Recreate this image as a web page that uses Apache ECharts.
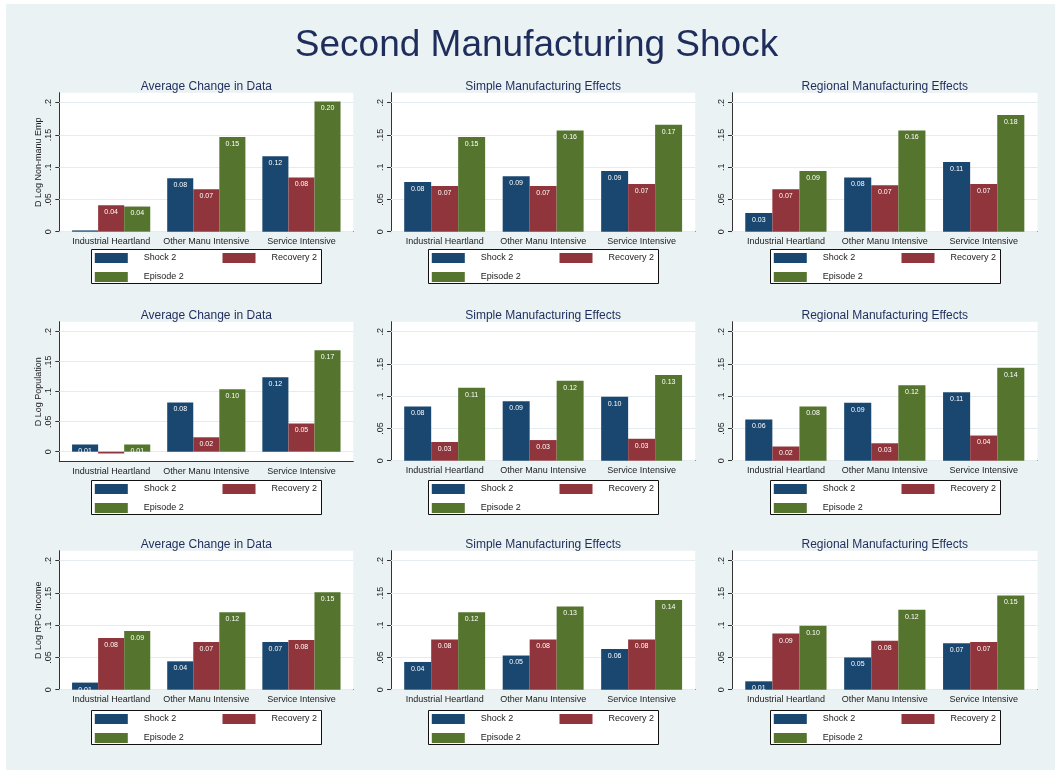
<!DOCTYPE html>
<html><head><meta charset="utf-8">
<script src="https://cdn.jsdelivr.net/npm/echarts@6/dist/echarts.min.js"></script>
<style>
html,body{margin:0;padding:0;background:#fff;}
#bg{position:absolute;left:6px;top:4px;width:1049px;height:766px;background:#eaf2f3;}
#chart{position:absolute;left:0;top:0;width:1055px;height:770px;}
</style>
</head><body><div id="bg"></div><div id="chart"></div>
<script>
const mainTitle = 'Second Manufacturing Shock';
const categories = ['Industrial Heartland', 'Other Manu Intensive', 'Service Intensive'];
const seriesNames = ['Shock 2', 'Recovery 2', 'Episode 2'];
const panelTitles = ['Average Change in Data', 'Simple Manufacturing Effects', 'Regional Manufacturing Effects'];
const rowLabels = ['D Log Non-manu Emp', 'D Log Population', 'D Log RPC Income'];
const yTicks = [0, 0.05, 0.1, 0.15, 0.2];

// Row 1: D Log Non-manu Emp
const empAvgShock = [0.002, 0.083, 0.117];
const empAvgRecovery = [0.041, 0.066, 0.084];
const empAvgEpisode = [0.039, 0.147, 0.202];
const empSimpleShock = [0.077, 0.086, 0.094];
const empSimpleRecovery = [0.071, 0.071, 0.074];
const empSimpleEpisode = [0.147, 0.157, 0.166];
const empRegionalShock = [0.029, 0.084, 0.108];
const empRegionalRecovery = [0.066, 0.072, 0.074];
const empRegionalEpisode = [0.094, 0.157, 0.181];
// Row 2: D Log Population
const popAvgShock = [0.012, 0.082, 0.124];
const popAvgRecovery = [-0.003, 0.024, 0.047];
const popAvgEpisode = [0.012, 0.104, 0.169];
const popSimpleShock = [0.084, 0.092, 0.099];
const popSimpleRecovery = [0.029, 0.032, 0.034];
const popSimpleEpisode = [0.113, 0.124, 0.133];
const popRegionalShock = [0.064, 0.090, 0.106];
const popRegionalRecovery = [0.022, 0.027, 0.039];
const popRegionalEpisode = [0.084, 0.117, 0.144];
// Row 3: D Log RPC Income
const incAvgShock = [0.011, 0.044, 0.074];
const incAvgRecovery = [0.080, 0.074, 0.077];
const incAvgEpisode = [0.091, 0.120, 0.151];
const incSimpleShock = [0.043, 0.053, 0.063];
const incSimpleRecovery = [0.078, 0.078, 0.078];
const incSimpleEpisode = [0.120, 0.129, 0.139];
const incRegionalShock = [0.013, 0.050, 0.072];
const incRegionalRecovery = [0.087, 0.076, 0.074];
const incRegionalEpisode = [0.099, 0.124, 0.146];

const panels = [
  [empAvgShock, empAvgRecovery, empAvgEpisode],
  [empSimpleShock, empSimpleRecovery, empSimpleEpisode],
  [empRegionalShock, empRegionalRecovery, empRegionalEpisode],
  [popAvgShock, popAvgRecovery, popAvgEpisode],
  [popSimpleShock, popSimpleRecovery, popSimpleEpisode],
  [popRegionalShock, popRegionalRecovery, popRegionalEpisode],
  [incAvgShock, incAvgRecovery, incAvgEpisode],
  [incSimpleShock, incSimpleRecovery, incSimpleEpisode],
  [incRegionalShock, incRegionalRecovery, incRegionalEpisode]
];

// ---- layout / style ----
const font = '"Liberation Sans", Arial, Helvetica, sans-serif';
const colors = ['#1a476f', '#90353b', '#55752f'];
const titleColor = '#1e2d5c';
const textColor = '#222';
const axisColor = '#333';
const colLeft = [59.3, 391, 732];
const colWidth = [294, 304.3, 305.6];
const rowTop = [92.7, 321.7, 550.7];
const boxTop = [249, 480, 710];

function fmtTick(v) {
  if (Math.abs(v) < 1e-9) return '0';
  return String(+v.toFixed(2)).replace(/^0\./, '.');
}

const option = {
  animation: false,
  backgroundColor: 'transparent',
  textStyle: { fontFamily: font },
  title: [],
  grid: [],
  xAxis: [],
  yAxis: [],
  legend: [],
  series: [],
  graphic: { elements: [] }
};

option.title.push({
  text: mainTitle, left: 536.5, top: 27, textAlign: 'center', padding: 0,
  textStyle: { fontSize: 37, fontWeight: 'normal', color: titleColor, fontFamily: font }
});

for (let r = 0; r < 3; r++) {
  for (let c = 0; c < 3; c++) {
    const idx = r * 3 + c;
    const left = colLeft[c], width = colWidth[c];
    const top = rowTop[r];
    let height = 139, yMin = 0, yMax = 0.2155;
    if (r === 1 && c === 0) { height = 140; yMin = -0.0167; yMax = 0.2167; }
    const center = left + width / 2;

    option.title.push({
      text: panelTitles[c], left: center, top: top - 12, textAlign: 'center', padding: 0,
      textStyle: { fontSize: 12, fontWeight: 'normal', color: titleColor, fontFamily: font }
    });

    option.grid.push({ left: left, top: top, width: width, height: height, show: true,
      backgroundColor: '#fff', borderWidth: 0, containLabel: false });

    option.xAxis.push({
      gridIndex: idx, type: 'value', min: -0.545, max: 2.545,
      axisLine: { show: true, onZero: false, lineStyle: { color: axisColor, width: 1 } },
      axisTick: { show: false },
      splitLine: { show: false },
      axisLabel: { customValues: [0, 1, 2], formatter: v => categories[Math.round(v)] || '',
        color: textColor, fontSize: 9, margin: 5, fontFamily: font }
    });

    option.yAxis.push({
      gridIndex: idx, type: 'value', min: yMin, max: yMax,
      axisLine: { show: true, onZero: false, lineStyle: { color: axisColor, width: 1 } },
      axisTick: { show: true, customValues: yTicks, length: 4, lineStyle: { color: axisColor } },
      axisLabel: { customValues: yTicks, rotate: 90, formatter: fmtTick, fontSize: 9,
        color: textColor, margin: 6, fontFamily: font },
      splitLine: { show: false },
      name: c === 0 ? rowLabels[r] : '',
      nameLocation: 'middle', nameGap: 16, nameRotate: 90,
      nameTextStyle: { fontSize: 9, color: textColor, fontFamily: font }
    });

    const barW = width / 11.28;
    panels[idx].forEach((vals, s) => {
      const ser = {
        type: 'bar', name: seriesNames[s], xAxisIndex: idx, yAxisIndex: idx,
        barWidth: barW, barGap: '0%',
        itemStyle: { color: colors[s] },
        data: vals.map((v, i) => [i, v]),
        label: { show: true, position: 'insideTop', distance: 3.5, fontSize: 7, color: '#fff',
          fontFamily: font, formatter: p => p.value[1].toFixed(2) },
        z: 2
      };
      if (s === 0) {
        ser.markLine = {
          silent: true, symbol: ['none', 'none'], z: 1,
          label: { show: false },
          lineStyle: { color: '#e4ecef', width: 1, type: 'solid' },
          data: yTicks.map(t => ({ yAxis: t }))
        };
      }
      option.series.push(ser);
    });

    // legend frame + items
    const bx = Math.round(center - 115) + 0.5;
    const by = boxTop[r] + 0.5;
    option.graphic.elements.push({
      type: 'rect', z: 1, silent: true,
      shape: { x: bx, y: by, width: 230, height: 34 },
      style: { fill: '#fff', stroke: '#111', lineWidth: 1 }
    });
    const itemPos = [[3.3, 3.5], [131, 3.5], [3.3, 22.5]];
    seriesNames.forEach((nm, s) => {
      option.legend.push({
        data: [nm], left: bx + itemPos[s][0], top: by + itemPos[s][1], padding: 0,
        itemWidth: 33, itemHeight: 10, icon: 'rect', selectedMode: false, z: 4,
        textStyle: { fontSize: 9, color: textColor, fontFamily: font, padding: [0, 0, 0, 11] }
      });
    });
  }
}

const chart = echarts.init(document.getElementById('chart'), null, { renderer: 'canvas' });
chart.setOption(option);
</script>
</body></html>
